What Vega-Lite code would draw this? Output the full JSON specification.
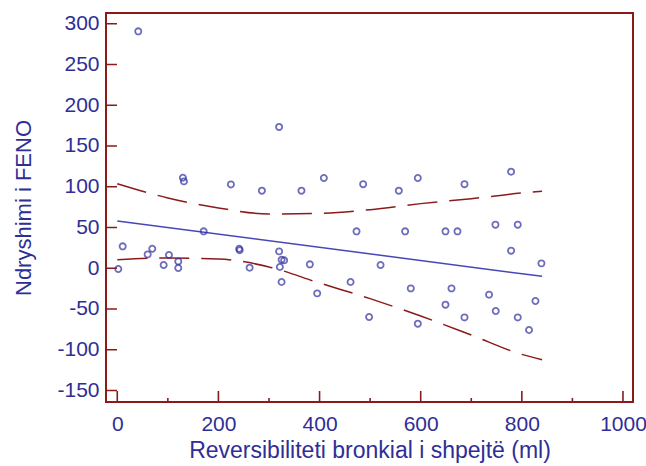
{
  "$schema": "https://vega.github.io/schema/vega-lite/v6.json",
  "width": 527,
  "height": 389,
  "autosize": "none",
  "padding": {"left": 106, "top": 13, "right": 13, "bottom": 64},
  "background": "white",
  "config": {
    "view": {"stroke": "#8b1a1a", "strokeWidth": 2},
    "axis": {
      "labelFont": "Liberation Sans",
      "labelFontSize": 21,
      "labelColor": "#2e2e96",
      "titleFont": "Liberation Sans",
      "titleFontSize": 22,
      "titleFontWeight": "normal",
      "titleColor": "#2e2e96",
      "domain": false,
      "grid": false
    }
  },
  "datasets": {
    "points": [
      {"x": 41.5, "y": 290.6}, {"x": 131.8, "y": 106.5}, {"x": 129.8, "y": 111}, {"x": 320, "y": 173.3},
      {"x": 224.7, "y": 102.8}, {"x": 286, "y": 95.1}, {"x": 364.2, "y": 95.1}, {"x": 408.5, "y": 110.7},
      {"x": 486.2, "y": 103.1}, {"x": 556.7, "y": 95.1}, {"x": 594.3, "y": 110.7}, {"x": 686.6, "y": 103.1},
      {"x": 778.7, "y": 118.4}, {"x": 170.8, "y": 45.2}, {"x": 473.1, "y": 45.2}, {"x": 569.2, "y": 45.2},
      {"x": 649, "y": 45.2}, {"x": 672.7, "y": 45.2}, {"x": 747.8, "y": 53.4}, {"x": 791.9, "y": 53.4},
      {"x": 778.7, "y": 21.5}, {"x": 838.7, "y": 5.9}, {"x": 520.6, "y": 3.9}, {"x": 580.4, "y": -24.8},
      {"x": 660.9, "y": -24.8}, {"x": 735.2, "y": -32.5}, {"x": 826.9, "y": -40.3}, {"x": 649, "y": -44.8},
      {"x": 748.4, "y": -52.5}, {"x": 498, "y": -59.9}, {"x": 686.6, "y": -60.4}, {"x": 791.9, "y": -60.4},
      {"x": 594.3, "y": -68.1}, {"x": 814.2, "y": -75.8}, {"x": 10.7, "y": 26.8}, {"x": 69.2, "y": 23.9},
      {"x": 60.1, "y": 16.9}, {"x": 102.2, "y": 16.2}, {"x": 91.7, "y": 3.9}, {"x": 120.6, "y": 8.3},
      {"x": 120.6, "y": 0.2}, {"x": 2, "y": -1}, {"x": 241.1, "y": 23.9}, {"x": 242, "y": 22},
      {"x": 261.7, "y": 0.6}, {"x": 320, "y": 20.6}, {"x": 324.9, "y": 10.4}, {"x": 330, "y": 9.6},
      {"x": 321.5, "y": 1.5}, {"x": 324.9, "y": -16.9}, {"x": 380.8, "y": 4.7}, {"x": 395.3, "y": -30.9},
      {"x": 461.3, "y": -16.9}
    ],
    "fit": [{"x": 0, "y": 58}, {"x": 840, "y": -10}],
    "bands": [
      {"x": 0, "y": 103.7, "band": "upper"}, {"x": 100, "y": 86.2, "band": "upper"},
      {"x": 200, "y": 73.9, "band": "upper"}, {"x": 300, "y": 66.5, "band": "upper"},
      {"x": 400, "y": 67.3, "band": "upper"}, {"x": 500, "y": 71.8, "band": "upper"},
      {"x": 600, "y": 79.2, "band": "upper"}, {"x": 700, "y": 85.3, "band": "upper"},
      {"x": 800, "y": 92.3, "band": "upper"}, {"x": 840, "y": 94.5, "band": "upper"},
      {"x": 0, "y": 10.4, "band": "lower"}, {"x": 100, "y": 12.5, "band": "lower"},
      {"x": 200, "y": 11.3, "band": "lower"}, {"x": 300, "y": 1.5, "band": "lower"},
      {"x": 400, "y": -18.2, "band": "lower"}, {"x": 500, "y": -37.4, "band": "lower"},
      {"x": 600, "y": -58.7, "band": "lower"}, {"x": 700, "y": -82, "band": "lower"},
      {"x": 800, "y": -105.8, "band": "lower"}, {"x": 840, "y": -112.3, "band": "lower"}
    ],
    "xmajor": [{"v": 0}, {"v": 200}, {"v": 400}, {"v": 600}, {"v": 800}, {"v": 1000}],
    "xminor": [{"v": 100}, {"v": 300}, {"v": 500}, {"v": 700}, {"v": 900}],
    "yticks": [{"v": -150}, {"v": -100}, {"v": -50}, {"v": 0}, {"v": 50}, {"v": 100}, {"v": 150}, {"v": 200}, {"v": 250}, {"v": 300}]
  },
  "layer": [
    {
      "data": {"name": "bands"},
      "mark": {"type": "line", "color": "#8b1a1a", "strokeWidth": 1.5, "strokeDash": [30, 12], "interpolate": "monotone"},
      "encoding": {
        "x": {"field": "x", "type": "quantitative",
              "scale": {"domain": [-22.3, 1019.8], "nice": false, "zero": false, "padding": 0},
              "axis": {"orient": "bottom", "values": [0, 200, 400, 600, 800, 1000],
                       "ticks": false, "labelPadding": 11,
                       "labelExpr": "'' + datum.value",
                       "title": "Reversibiliteti bronkial i shpejtë (ml)", "titleFontSize": 23, "titlePadding": 5}},
        "y": {"field": "y", "type": "quantitative",
              "scale": {"domain": [-164.2, 313.1], "nice": false, "zero": false, "padding": 0},
              "axis": {"values": [-150, -100, -50, 0, 50, 100, 150, 200, 250, 300],
                       "ticks": false, "labelPadding": 7,
                       "labelExpr": "'' + datum.value",
                       "title": "Ndryshimi i FENO", "titlePadding": 21}},
        "detail": {"field": "band"}
      }
    },
    {
      "data": {"name": "xmajor"},
      "mark": {"type": "bar", "color": "#8b1a1a", "width": 1.6},
      "encoding": {
        "x": {"field": "v", "type": "quantitative"},
        "y": {"datum": -163.6, "type": "quantitative"},
        "y2": {"datum": -150.7}
      }
    },
    {
      "data": {"name": "xminor"},
      "mark": {"type": "bar", "color": "#8b1a1a", "width": 1.6},
      "encoding": {
        "x": {"field": "v", "type": "quantitative"},
        "y": {"datum": -163.6, "type": "quantitative"},
        "y2": {"datum": -159.3}
      }
    },
    {
      "data": {"name": "yticks"},
      "mark": {"type": "bar", "color": "#8b1a1a", "height": 1.6, "orient": "horizontal"},
      "encoding": {
        "y": {"field": "v", "type": "quantitative"},
        "x": {"datum": -21.5, "type": "quantitative"},
        "x2": {"datum": -0.6}
      }
    },
    {
      "data": {"name": "fit"},
      "mark": {"type": "line", "color": "#4747b5", "strokeWidth": 1.5},
      "encoding": {
        "x": {"field": "x", "type": "quantitative"},
        "y": {"field": "y", "type": "quantitative"}
      }
    },
    {
      "data": {"name": "points"},
      "mark": {"type": "point", "shape": "circle", "filled": false, "color": "#3030a0", "strokeWidth": 1.8, "size": 38},
      "encoding": {
        "x": {"field": "x", "type": "quantitative"},
        "y": {"field": "y", "type": "quantitative"}
      }
    }
  ]
}
